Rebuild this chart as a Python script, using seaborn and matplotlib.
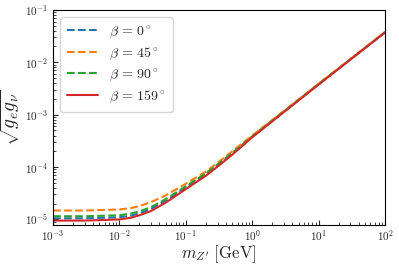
import matplotlib
matplotlib.use("Agg")
import matplotlib.pyplot as plt
import seaborn as sns

# values
m_zp = [1e-3, 3e-3, 1e-2, 1.5e-2, 2e-2, 3e-2, 5e-2, 7e-2, 0.1, 0.2, 0.3, 0.5, 1, 3, 10, 30, 100]

beta_labels = [r"$\beta\,=\,0^\circ$", r"$\beta\,=\,45^\circ$", r"$\beta\,=\,90^\circ$", r"$\beta\,=\,159^\circ$"]

g_beta0 = [1.05e-5, 1.05e-5, 1.1e-5, 1.18e-5, 1.3e-5, 1.6e-5, 2.3e-5, 3.0e-5, 4.1e-5, 7.3e-5, 1.08e-4, 1.8e-4, 3.8e-4, 1.14e-3, 3.8e-3, 1.13e-2, 3.72e-2]
g_beta45 = [1.48e-5, 1.48e-5, 1.55e-5, 1.65e-5, 1.8e-5, 2.14e-5, 2.9e-5, 3.7e-5, 4.8e-5, 8.2e-5, 1.2e-4, 2.0e-4, 4.0e-4, 1.18e-3, 3.9e-3, 1.15e-2, 3.8e-2]
g_beta90 = [1.15e-5, 1.15e-5, 1.2e-5, 1.3e-5, 1.42e-5, 1.72e-5, 2.45e-5, 3.2e-5, 4.3e-5, 7.6e-5, 1.12e-4, 1.85e-4, 3.85e-4, 1.15e-3, 3.85e-3, 1.14e-2, 3.75e-2]
g_beta159 = [0.95e-5, 0.95e-5, 1.0e-5, 1.08e-5, 1.2e-5, 1.45e-5, 2.1e-5, 2.8e-5, 3.8e-5, 6.8e-5, 1.02e-4, 1.72e-4, 3.7e-4, 1.12e-3, 3.75e-3, 1.12e-2, 3.7e-2]

series = [g_beta0, g_beta45, g_beta90, g_beta159]
colors = ["#1f77b4", "#ff7f0e", "#2ca02c", "#d62728"]
styles = ["--", "--", "--", "-"]

sns.set_style("ticks")
plt.rcParams["font.family"] = "serif"
plt.rcParams["font.serif"] = ["cmr10", "DejaVu Serif"]
plt.rcParams["mathtext.fontset"] = "cm"
plt.rcParams["axes.formatter.use_mathtext"] = True
plt.rcParams["xtick.direction"] = "in"
plt.rcParams["ytick.direction"] = "in"

fig = plt.figure(figsize=(3.99, 2.67), dpi=100)
ax = fig.add_axes([0.133, 0.157, 0.832, 0.806])

for vals, lab, c, ls in zip(series, beta_labels, colors, styles):
    sns.lineplot(x=m_zp, y=vals, ax=ax, color=c, linestyle=ls, linewidth=1.5, label=lab)

ax.set_xscale("log")
ax.set_yscale("log")
ax.set_xlim(1e-3, 1e2)
ax.set_ylim(7.8e-6, 1e-1)
ax.tick_params(axis="both", which="major", labelsize=8, length=3.5, width=0.8)
ax.tick_params(axis="x", which="major", pad=2.5)
ax.tick_params(axis="both", which="minor", length=2, width=0.6)
for sp in ax.spines.values():
    sp.set_color("black")
    sp.set_linewidth(0.8)

ax.set_xlabel(r"$m_{Z^\prime}\ [\mathrm{GeV}]$", fontsize=12, labelpad=0)
ax.set_ylabel(r"$\sqrt{g_e g_\nu}$", fontsize=14, labelpad=2)
ax.legend(loc="upper left", fontsize=10, frameon=True, labelspacing=0.35,
          handlelength=2.2, borderpad=0.5)

fig.savefig("out.png", dpi=100)
